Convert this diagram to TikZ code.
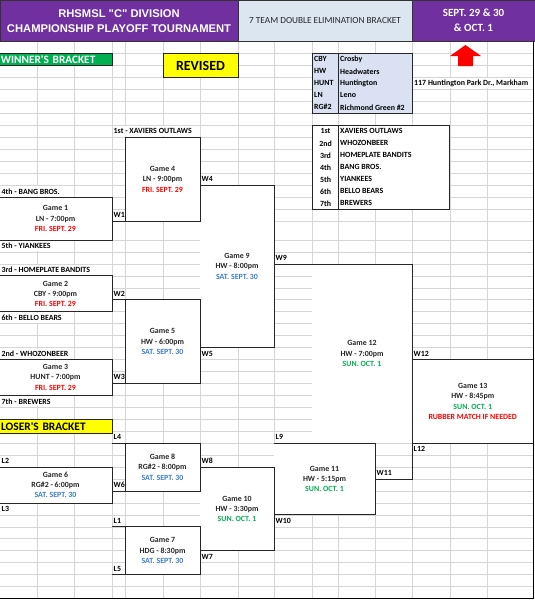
\documentclass[tikz,border=0pt]{standalone}
\usepackage{fontspec}
\setmainfont{Carlito}
\newfontfamily\arialfont{Liberation Sans}
\definecolor{hpurple}{HTML}{7030A0}
\definecolor{hblue}{HTML}{DCE6F1}
\definecolor{legfill}{HTML}{D9E1F2}
\definecolor{wgreen}{HTML}{00B050}
\definecolor{ryellow}{HTML}{FFFF00}
\definecolor{dred}{HTML}{FF0000}
\definecolor{dblue}{HTML}{3D7DCA}
\definecolor{dgreen}{HTML}{00B050}
\definecolor{gridc}{HTML}{D6D6D6}
\newcommand\gfont{\bfseries\fontsize{7.9}{10.3}\selectfont}
\begin{document}
\begin{tikzpicture}[x=1pt,y=-1pt,
  cellbox/.style={draw=black!85, line width=0.8pt, fill=white, inner sep=0pt, outer sep=0pt, align=center, font=\gfont, text=black!85},
  cellarea/.style={fill=white, inner sep=0pt, outer sep=0pt, align=center, font=\gfont, text=black!85},
  lbl/.style={anchor=west, inner xsep=0.5pt, inner ysep=0pt, minimum height=10pt, fill=white, font=\gfont, text=black},
  plain/.style={anchor=west, inner sep=0pt, font=\gfont, text=black},
  bline/.style={draw=black!85, line width=0.8pt},
  gline/.style={draw=gridc, line width=0.6pt}]
\useasboundingbox (0,0) rectangle (535,600);
\clip (0,0) rectangle (535,600);
\fill[white] (0,0) rectangle (535,600);
% gridlines
\foreach \y in {53.3,65.3,77.3,89.3,101.3,113.3,125.3,137.3,149.3,161.3,173.3,185.3,197.3,209.3,221.3}
  \draw[gline] (0,\y) -- (533,\y);
\foreach \i in {0,...,29}
  \draw[gline] (0,{240+11.95*\i}) -- (533,{240+11.95*\i});
\foreach \x in {37,74,112,125,163,200,238,274,312,338,375,412,450,487}
  \draw[gline] (\x,41.3) -- (\x,598.5);
% header
\node[fill=hpurple, draw=black!80, line width=0.8pt, minimum width=238, minimum height=41.3, inner sep=0pt, outer sep=0pt, text=white, align=center, font=\arialfont\bfseries\fontsize{11.2}{15}\selectfont] (hl) at (119,20.65) {RHSMSL "C" DIVISION\\CHAMPIONSHIP PLAYOFF TOURNAMENT};
\node[fill=hblue, draw=black!80, line width=0.8pt, minimum width=174, minimum height=41.3, inner sep=0pt, outer sep=0pt, text=black!85, font=\fontsize{9.3}{11}\selectfont] (hm) at (325,20.65) {7 TEAM DOUBLE ELIMINATION BRACKET};
\node[fill=hpurple, draw=black!80, line width=0.8pt, minimum width=123, minimum height=41.3, inner sep=0pt, outer sep=0pt, text=white, align=center, font=\bfseries\fontsize{11}{15}\selectfont] (hr) at (473.5,20.65) {SEPT. 29 \& 30\\\& OCT. 1};
% tags
\node[fill=wgreen, draw=black!85, line width=0.8pt, anchor=west, minimum height=12.4, text width=110, inner xsep=1.5pt, inner ysep=0pt, align=left, text=white, font=\bfseries\fontsize{11.3}{12}\selectfont] (wb) at (-1,59.5) {WINNER\textquotesingle S BRACKET};
\node[fill=ryellow, draw=black!85, line width=0.8pt, minimum width=75, minimum height=24, inner sep=0pt, font=\bfseries\fontsize{14}{16}\selectfont] (rev) at (200.5,65.5) {REVISED};
\node[fill=ryellow, draw=black!85, line width=1.1pt, anchor=west, minimum height=14.5, text width=110, inner xsep=1.5pt, inner ysep=0pt, align=left, text=black, font=\bfseries\fontsize{11.4}{13}\selectfont] (lb) at (-1,426.5) {LOSER\textquotesingle S BRACKET};
% arrow and address
\fill[red] (465.5,45) -- (481,56) -- (473,56) -- (473,66) -- (458,66) -- (458,56) -- (450,56) -- cycle;
\node[lbl] (addr) at (413.5,83.3) {117 Huntington Park Dr., Markham};
% legend
\node[fill=legfill, draw=black!85, line width=0.9pt, minimum width=100, minimum height=60, inner sep=0pt, outer sep=0pt] (leg) at (362,83.3) {};
\draw[black!85, line width=0.6pt] ([xshift=26pt]leg.north west) -- ([xshift=26pt]leg.south west);
\node[plain] (c1) at (314,59.3) {CBY};
\node[plain] (c2) at (314,71.3) {HW};
\node[plain] (c3) at (314,83.3) {HUNT};
\node[plain] (c4) at (314,95.3) {LN};
\node[plain] (c5) at (314,107.3) {RG\#2};
\node[plain] (n1) at (340,59.3) {Crosby};
\node[plain] (n2) at (340,71.3) {Headwaters};
\node[plain] (n3) at (340,83.3) {Huntington};
\node[plain] (n4) at (340,95.3) {Leno};
\node[plain] (n5) at (340,107.3) {Richmond Green \#2};
% standings
\node[fill=white, draw=black!85, line width=0.9pt, minimum width=137, minimum height=84, inner sep=0pt, outer sep=0pt] (std) at (380.5,167.3) {};
\draw[black!85, line width=0.6pt] ([xshift=26pt]std.north west) -- ([xshift=26pt]std.south west);
\foreach \k/\o/\t in {0/1st/XAVIERS OUTLAWS,1/2nd/WHOZONBEER,2/3rd/HOMEPLATE BANDITS,3/4th/BANG BROS.,4/5th/YIANKEES,5/6th/BELLO BEARS,6/7th/BREWERS}{
  \node[inner sep=0pt, font=\gfont] (o\k) at (325.5,{131.3+12*\k}) {\o};
  \node[plain] (s\k) at (340,{131.3+12*\k}) {\t};
}
% team and link labels
\node[lbl] (t1) at (113,131.3) {1st - XAVIERS OUTLAWS};
\node[lbl] (t4) at (1,191.3) {4th - BANG BROS.};
\node[lbl] (t5) at (1,246) {5th - YIANKEES};
\node[lbl] (t3) at (1,269.9) {3rd - HOMEPLATE BANDITS};
\node[lbl] (t6) at (1,317.7) {6th - BELLO BEARS};
\node[lbl] (t2) at (1,353.5) {2nd - WHOZONBEER};
\node[lbl] (t7) at (1,401.3) {7th - BREWERS};
\node[lbl] (lw1) at (113,215.3) {W1};
\node[lbl] (lw2) at (113,293.8) {W2};
\node[lbl] (lw3) at (113,377.4) {W3};
\node[lbl] (lw4) at (201,179.3) {W4};
\node[lbl] (lw5) at (201,353.5) {W5};
\node[lbl] (lw6) at (113,485) {W6};
\node[lbl] (lw7) at (201,556.7) {W7};
\node[lbl] (lw8) at (201,461.1) {W8};
\node[lbl] (lw9) at (275,257.9) {W9};
\node[lbl] (lw10) at (275,520.8) {W10};
\node[lbl] (lw11) at (376,473) {W11};
\node[lbl] (lw12) at (413,353.5) {W12};
\node[lbl] (ll1) at (113,520.8) {L1};
\node[lbl] (ll2) at (1,461.1) {L2};
\node[lbl] (ll3) at (1,508.9) {L3};
\node[lbl] (ll4) at (113,437.2) {L4};
\node[lbl] (ll5) at (113,568.6) {L5};
\node[lbl] (ll9) at (275,437.2) {L9};
\node[lbl] (ll12) at (413,449.1) {L12};
% open game areas
\node[cellarea, minimum width=74, minimum height=162.25] (g9) at (237,266.43) {Game 9\\HW - 8:00pm\\\textcolor{dblue}{SAT. SEPT. 30}};
\node[cellarea, minimum width=100, minimum height=179.25] (g12) at (362,353.53) {Game 12\\HW - 7:00pm\\\textcolor{dgreen}{SUN. OCT. 1}};
\node[cellarea, minimum width=74, minimum height=83.65] (g10) at (237,508.88) {Game 10\\HW - 3:30pm\\\textcolor{dgreen}{SUN. OCT. 1}};
\node[cellarea, minimum width=101, minimum height=71.7] (g11) at (324.5,479) {Game 11\\HW - 5:15pm\\\textcolor{dgreen}{SUN. OCT. 1}};
% boxed games
\node[cellbox, minimum width=113, minimum height=42.7] (g1) at (55.5,218.65) {Game 1\\LN - 7:00pm\\\textcolor{dred}{FRI. SEPT. 29}};
\node[cellbox, minimum width=113, minimum height=35.85] (g2) at (55.5,293.78) {Game 2\\CBY - 9:00pm\\\textcolor{dred}{FRI. SEPT. 29}};
\node[cellbox, minimum width=113, minimum height=35.85] (g3) at (55.5,377.43) {Game 3\\HUNT - 7:00pm\\\textcolor{dred}{FRI. SEPT. 29}};
\node[cellbox, minimum width=113, minimum height=35.85] (g6) at (55.5,484.98) {Game 6\\RG\#2 - 6:00pm\\\textcolor{dblue}{SAT. SEPT. 30}};
\node[cellbox, minimum width=75, minimum height=84] (g4) at (162.5,179.3) {Game 4\\LN - 9:00pm\\\textcolor{dred}{FRI. SEPT. 29}};
\node[cellbox, minimum width=75, minimum height=83.65] (g5) at (162.5,341.58) {Game 5\\HW - 6:00pm\\\textcolor{dblue}{SAT. SEPT. 30}};
\node[cellbox, minimum width=75, minimum height=47.8] (g8) at (162.5,467.05) {Game 8\\RG\#2 - 8:00pm\\\textcolor{dblue}{SAT. SEPT. 30}};
\node[cellbox, minimum width=75, minimum height=47.8] (g7) at (162.5,550.7) {Game 7\\HDG - 8:30pm\\\textcolor{dblue}{SAT. SEPT. 30}};
\node[cellbox, minimum width=121.5, minimum height=83.65] (g13) at (472.75,401.33) {Game 13\\HW - 8:45pm\\\textcolor{dgreen}{SUN. OCT. 1}\\\textcolor{dred}{RUBBER MATCH IF NEEDED}};
% connectors
\draw[bline] (g4.south west) -- (g4.south west -| g1.east);
\draw[bline] (g5.north west) -- (g5.north west -| g2.east);
\draw[bline] (g5.south west) -- (g5.south west -| g3.east);
\draw[bline] (g8.south west) -- (g8.south west -| g6.east);
\draw[bline] (g8.north west) -- (g8.north west -| g6.east);
\draw[bline] (g7.north west) -- (g7.north west -| g6.east);
\draw[bline] (g7.south west) -- (g7.south west -| g6.east);
\draw[bline] (g4.east |- g9.north) -- (g9.north east) -- (g9.south east) -- (g5.east |- g9.south);
\draw[bline] (g8.east |- g10.north) -- (g10.north east) -- (g10.south east) -- (g7.east |- g10.south);
\draw[bline] (g10.east |- g11.north) -- (g11.north east) -- (g11.south east) -- (g10.east |- g11.south);
\draw[bline] (g9.east |- g12.north) -- (g12.north east) -- (g12.north east |- g11.east) -- (g11.east);
% sheet border
\draw[black, line width=1pt] (0,598.5) -- (533.5,598.5) -- (533.5,41.3);
\end{tikzpicture}
\end{document}
